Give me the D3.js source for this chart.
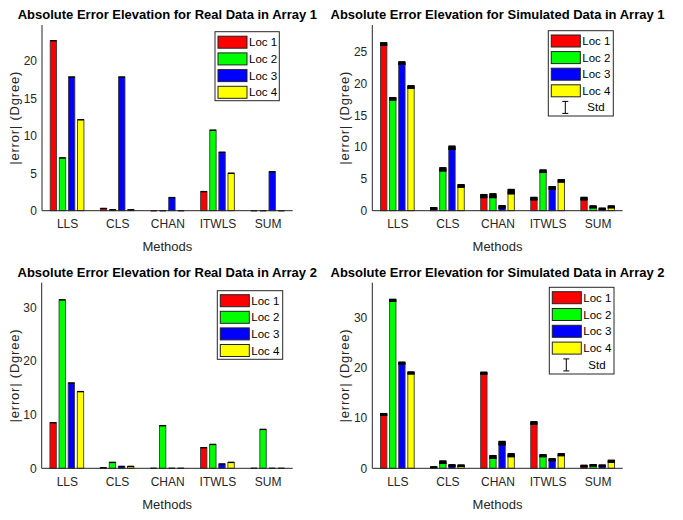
<!DOCTYPE html>
<html><head><meta charset="utf-8">
<script src="https://cdn.jsdelivr.net/npm/d3@7"></script>
<style>body{margin:0;background:#fff}svg{display:block}text{font-family:"Liberation Sans",Arial,Helvetica,sans-serif}</style>
</head><body><svg id="c" width="683" height="520"></svg>
<script>
const methods = ["LLS","CLS","CHAN","ITWLS","SUM"];
const locs = ["Loc 1","Loc 2","Loc 3","Loc 4"];
const colors = ["#ff0000","#00ff00","#0000ff","#ffff00"];

// values[loc][method]
const real1 = [
  [22.7, 0.3, 0.0, 2.55, 0.0],
  [7.05, 0.12, 0.0, 10.75, 0.0],
  [17.85, 17.85, 1.75, 7.8, 5.2],
  [12.15, 0.12, 0.0, 5.0, 0.0]
];
const sim1 = [
  [26.2, 0.35, 2.3, 1.9, 1.9],
  [17.6, 6.5, 2.35, 6.2, 0.6],
  [23.2, 9.9, 0.6, 3.6, 0.3],
  [19.45, 3.9, 3.0, 4.7, 0.6]
];
const sim1Std = [
  [0.2, 0.15, 0.25, 0.2, 0.2],
  [0.2, 0.25, 0.3, 0.2, 0.15],
  [0.2, 0.25, 0.2, 0.2, 0.1],
  [0.2, 0.2, 0.35, 0.2, 0.15]
];
const real2 = [
  [8.5, 0.1, 0.0, 3.85, 0.0],
  [31.4, 1.1, 7.95, 4.45, 7.25],
  [15.9, 0.35, 0.0, 0.8, 0.0],
  [14.3, 0.35, 0.0, 1.1, 0.0]
];
const sim2 = [
  [10.7, 0.2, 18.9, 9.0, 0.45],
  [33.4, 1.2, 2.25, 2.5, 0.6],
  [20.9, 0.55, 5.0, 1.7, 0.5],
  [18.95, 0.5, 2.6, 2.7, 1.4]
];
const sim2Std = [
  [0.2, 0.1, 0.2, 0.25, 0.15],
  [0.2, 0.25, 0.3, 0.2, 0.15],
  [0.2, 0.15, 0.35, 0.2, 0.15],
  [0.2, 0.15, 0.3, 0.2, 0.2]
];

const titles = [
  "Absolute Error Elevation for Real Data in Array 1",
  "Absolute Error Elevation for Simulated Data in Array 1",
  "Absolute Error Elevation for Real Data in Array 2",
  "Absolute Error Elevation for Simulated Data in Array 2"
];
const yTicks1 = [0,5,10,15,20];
const yTicks2 = [0,5,10,15,20,25];
const yTicks3 = [0,10,20,30];
const yTicks4 = [0,10,20,30];

const svg = d3.select("#c");
const axisColor = "#262626";

function panel(o){
  const g = svg.append("g");
  const x = d3.scaleLinear().domain([0.5,5.5]).range([o.left,o.right]);
  const y = d3.scaleLinear().domain([0,o.ymax]).range([o.bottom,o.top]);
  const unit = x(1)-x(0);
  const slot = unit*0.727/4;
  const bw = slot*0.7;
  // bars
  o.data.forEach((series,si)=>{
    series.forEach((v,mi)=>{
      const cx = x(mi+1) + (si-1.5)*slot;
      g.append("rect").attr("x",cx-bw/2).attr("y",y(v)).attr("width",bw)
        .attr("height",Math.max(0,y(0)-y(v))).attr("fill",colors[si])
        .attr("stroke","#3a3a3a").attr("stroke-width",0.9);
      if(o.std){
        const s = o.std[si][mi];
        const e = g.append("g").attr("stroke","#000").attr("stroke-width",1);
        e.append("line").attr("x1",cx).attr("x2",cx).attr("y1",y(v-s)).attr("y2",y(v+s));
        e.append("line").attr("x1",cx-bw/2).attr("x2",cx+bw/2).attr("y1",y(v+s)).attr("y2",y(v+s));
        e.append("line").attr("x1",cx-bw/2).attr("x2",cx+bw/2).attr("y1",y(v-s)).attr("y2",y(v-s));
        e.append("rect").attr("x",cx-bw/2).attr("y",y(v+s)).attr("width",bw).attr("height",Math.max(0,y(v-s)-y(v+s))).attr("fill","#000");
      } else {
        g.append("line").attr("x1",cx-bw/2).attr("x2",cx+bw/2).attr("y1",y(v)).attr("y2",y(v))
          .attr("stroke","#000").attr("stroke-width",1.4);
      }
    });
  });
  // axes
  const ya = d3.axisLeft(y).tickValues(o.yticks).tickSize(0).tickPadding(5).tickFormat(d3.format("d"));
  const yg = g.append("g").attr("transform",`translate(${o.left},0)`).call(ya);
  yg.select(".domain").attr("stroke",axisColor).attr("d",`M0,${o.bottom}V${o.top}`);
  yg.selectAll("text").attr("fill",axisColor).style("font-size","12px");
  const xa = d3.axisBottom(x).tickValues([1,2,3,4,5]).tickSize(0).tickPadding(9).tickFormat(d=>methods[d-1]);
  const xg = g.append("g").attr("transform",`translate(0,${o.bottom})`).call(xa);
  xg.select(".domain").attr("stroke",axisColor).attr("d",`M${o.left},0H${o.right}`);
  xg.selectAll("text").attr("fill",axisColor).style("font-size","12px");
  // labels
  g.append("text").attr("x",(o.left+o.right)/2).attr("y",o.top-6).attr("text-anchor","middle")
    .style("font-size","13px").style("font-weight","bold").attr("fill","#000").text(o.title);
  g.append("text").attr("x",(o.left+o.right)/2).attr("y",o.bottom+40.5).attr("text-anchor","middle")
    .style("font-size","13px").attr("fill",axisColor).text("Methods");
  g.append("text").attr("transform",`translate(${o.left-23},${(o.top+o.bottom)/2}) rotate(-90)`)
    .attr("text-anchor","middle").style("font-size","13px").style("letter-spacing","0.8px")
    .attr("fill",axisColor).text("|error| (Dgree)");
  // legend
  const L = o.legend;
  const lg = g.append("g");
  lg.append("rect").attr("x",L.x).attr("y",L.y).attr("width",L.w).attr("height",L.h)
    .attr("fill","#fff").attr("stroke",axisColor).attr("stroke-width",1);
  locs.forEach((name,i)=>{
    const cy = L.y + L.first + i*L.step;
    lg.append("rect").attr("x",L.x+3).attr("y",cy-6).attr("width",29).attr("height",12)
      .attr("fill",colors[i]).attr("stroke","#222").attr("stroke-width",1);
    lg.append("text").attr("x",L.x+34).attr("y",cy+4).style("font-size","11.5px").attr("fill","#000").text(name);
  });
  if(o.std){
    const cy = L.y + L.first + 4*L.step;
    const cx = L.x+17;
    const e = lg.append("g").attr("stroke","#000").attr("stroke-width",1);
    e.append("line").attr("x1",cx).attr("x2",cx).attr("y1",cy-6).attr("y2",cy+6);
    e.append("line").attr("x1",cx-3).attr("x2",cx+3).attr("y1",cy-6).attr("y2",cy-6);
    e.append("line").attr("x1",cx-3).attr("x2",cx+3).attr("y1",cy+6).attr("y2",cy+6);
    lg.append("text").attr("x",L.x+39).attr("y",cy+4).style("font-size","11.5px").attr("fill","#000").text("Std");
  }
}

panel({left:42,right:292.7,top:25,bottom:210.7,ymax:24.8,yticks:yTicks1,data:real1,title:titles[0],
  legend:{x:215,y:31.7,w:64.3,h:69,first:10.5,step:16.7}});
panel({left:372.3,right:622.7,top:25,bottom:210.7,ymax:29.2,yticks:yTicks2,data:sim1,std:sim1Std,title:titles[1],
  legend:{x:548.3,y:30.7,w:65,h:85.3,first:10.3,step:16.6}});
panel({left:41.7,right:292.7,top:282.7,bottom:468.3,ymax:34.6,yticks:yTicks3,data:real2,title:titles[2],
  legend:{x:217.3,y:290.7,w:65.4,h:68.6,first:10,step:16.6}});
panel({left:372.3,right:622.7,top:282.7,bottom:468.3,ymax:36.9,yticks:yTicks4,data:sim2,std:sim2Std,title:titles[3],
  legend:{x:549.3,y:287.3,w:64.7,h:86.7,first:10.4,step:16.8}});
</script></body></html>
